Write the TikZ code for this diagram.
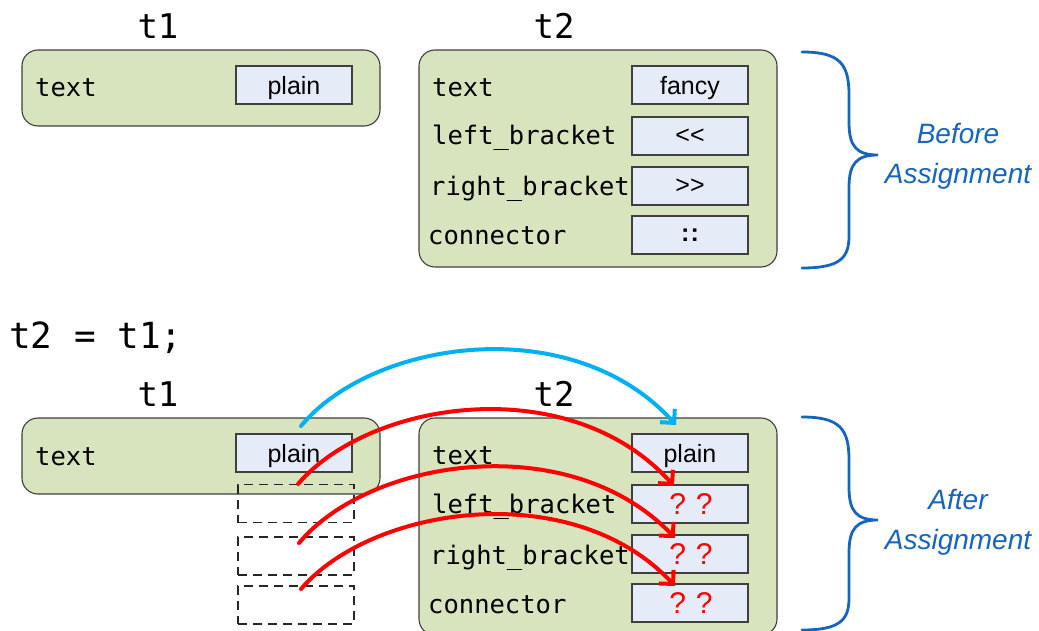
\documentclass[tikz,border=0pt]{standalone}
\usepackage{fontspec}
\setmainfont[Ligatures=NoCommon]{Liberation Sans}
\newfontfamily\codefont{DejaVu Sans Mono}
\usetikzlibrary{arrows.meta}
\definecolor{boxgreen}{HTML}{D7E4BD}
\definecolor{valblue}{HTML}{E6ECF7}
\definecolor{edgegray}{HTML}{3F3F3F}
\definecolor{braceblue}{HTML}{1565C0}
\definecolor{copycyan}{HTML}{00B0F0}
\definecolor{copyred}{HTML}{FF0000}
\begin{document}
\begin{tikzpicture}[x=1pt,y=-1pt,
  container/.style={draw=edgegray, fill=boxgreen, line width=1.1pt, rounded corners=16pt, minimum width=358pt, inner sep=0pt},
  valbox/.style={draw=edgegray, fill=valblue, line width=1.3pt, minimum width=116pt, minimum height=38pt, inner sep=0pt, text depth=0pt, font=\fontsize{25}{30}\selectfont},
  ghostbox/.style={draw=black!85, dash pattern=on 9pt off 6pt, line width=1.4pt, minimum width=116pt, minimum height=38pt, inner sep=0pt},
  field/.style={anchor=base west, inner sep=0pt, font=\codefont\fontsize{25.5}{30}\selectfont},
  title/.style={anchor=base, inner sep=0pt, font=\codefont\fontsize{34}{40}\selectfont},
  unknown/.style={text=copyred, font=\fontsize{30}{34}\selectfont},
  brace/.style={draw=braceblue, line width=2.8pt, line cap=round},
  bracelabel/.style={text=braceblue, align=center, inner sep=0pt, font=\itshape\fontsize{28}{40}\selectfont},
  copyarrow/.style={line width=4pt, line cap=round, -{Straight Barb[length=10pt,width=20pt]}}
]
\useasboundingbox (0,0) rectangle (1039,631);
\clip (0,0) rectangle (1039,631);

% ---------- Before assignment ----------
\node[title] (t1a) at (158,39) {t1};
\node[title] (t2a) at (554,39) {t2};
\node[container, minimum height=76pt] (t1boxa) at (201,88) {};
\node[container, minimum height=217pt] (t2boxa) at (598,158.5) {};

\node[field] (t1texta) at (35,97) {text};
\node[valbox] (t1plaina) at (294,85) {plain};

\node[field] (t2texta) at (432,97) {text};
\node[field] (t2lefta) at (432,145) {left\_bracket};
\node[field] (t2righta) at (430,196) {right\_bracket};
\node[field] (t2conna) at (428,245) {connector};
\node[valbox] (t2v1a) at (690,85) {fancy};
\node[valbox] (t2v2a) at (690,136) {<{}<};
\node[valbox] (t2v3a) at (690,186) {>{}>};
\node[valbox] (t2v4a) at (690,235) {\textbf{:\kern1pt:}};

\draw[brace] (802,52) .. controls (840,52) and (849,64) .. (849,95) -- (849,122)
  .. controls (849,146) and (856,155) .. (878,155)
  .. controls (856,155) and (849,164) .. (849,188) -- (849,236)
  .. controls (849,258) and (840,268) .. (802,268);
\node[bracelabel] (beforelab) at (958,156) {Before\\Assignment};

% ---------- Statement ----------
\node[anchor=base west, inner sep=0pt, font=\codefont\fontsize{36}{42}\selectfont] (stmt) at (9,348) {t2 = t1;};

% ---------- After assignment ----------
\node[title] (t1b) at (158,406) {t1};
\node[title] (t2b) at (554,406) {t2};
\node[container, minimum height=76pt] (t1boxb) at (201,456) {};
\node[container, minimum height=217pt] (t2boxb) at (598,526.5) {};

\node[field] (t1textb) at (35,465) {text};
\node[valbox] (t1plainb) at (294,453) {plain};
\node[ghostbox] (g1) at (296,503.5) {};
\node[ghostbox] (g2) at (296,556) {};
\node[ghostbox] (g3) at (296,605) {};

\node[field] (t2textb) at (432,464) {text};
\node[field] (t2leftb) at (432,513) {left\_bracket};
\node[field] (t2rightb) at (430,564) {right\_bracket};
\node[field] (t2connb) at (428,613) {connector};
\node[valbox] (t2v1b) at (690,453) {plain};
\node[valbox, unknown] (t2v2b) at (690,504) {\hspace{2pt}?\hspace{10pt}?};
\node[valbox, unknown] (t2v3b) at (690,554) {\hspace{2pt}?\hspace{10pt}?};
\node[valbox, unknown] (t2v4b) at (690,603) {\hspace{2pt}?\hspace{10pt}?};

\draw[brace] (802,417) .. controls (840,417) and (849,429) .. (849,460) -- (849,487)
  .. controls (849,511) and (856,520) .. (878,520)
  .. controls (856,520) and (849,529) .. (849,553) -- (849,598)
  .. controls (849,620) and (840,630) .. (802,630);
\node[bracelabel] (afterlab) at (958,522) {After\\Assignment};

% ---------- copy arrows ----------
\coordinate (bs) at (301,426);
\coordinate (be) at (676,425);
\coordinate (r1s) at (298,484);
\coordinate (r1e) at (674,486);
\coordinate (r2s) at (299,543);
\coordinate (r2e) at (675,538);
\coordinate (r3s) at (301,589);
\coordinate (r3e) at (675,586);

\draw[copyarrow, copycyan] (bs) .. controls (372,340) and (572,310) .. (be);
\draw[copyarrow, copyred] (r1s) .. controls (370,400) and (570,370) .. (r1e);
\draw[copyarrow, copyred] (r2s) .. controls (370,458) and (570,428) .. (r2e);
\draw[copyarrow, copyred] (r3s) .. controls (372,506) and (572,476) .. (r3e);
\end{tikzpicture}
\end{document}
